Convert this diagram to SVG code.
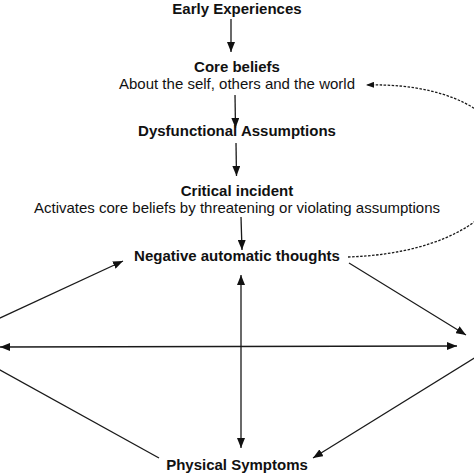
<svg xmlns="http://www.w3.org/2000/svg" width="474" height="474" viewBox="0 0 474 474">
<style>
text{font-family:"Liberation Sans",Arial,sans-serif;font-size:15px;fill:#111;text-anchor:middle}
.b{font-weight:bold}
.ln{stroke:#1a1a1a;stroke-width:1.3;fill:none}
.dash{stroke:#1a1a1a;stroke-width:1.3;fill:none;stroke-dasharray:2.5 1.5}
</style>
<defs>
<marker id="ah" viewBox="0 0 10 8" refX="10" refY="4" markerWidth="10" markerHeight="8" markerUnits="userSpaceOnUse" orient="auto-start-reverse">
<path d="M0,0 L10,4 L0,8 Z" fill="#111"/>
</marker>
<marker id="ahs" viewBox="0 0 8 6" refX="8" refY="3" markerWidth="8" markerHeight="6" markerUnits="userSpaceOnUse" orient="auto">
<path d="M0,0 L8,3 L0,6 Z" fill="#111"/>
</marker>
</defs>
<rect width="474" height="474" fill="#fff"/>
<g id="early"><text class="b" x="237" y="13.5">Early Experiences</text></g>
<g id="core"><text class="b" x="237" y="72">Core beliefs</text><text x="237" y="89">About the self, others and the world</text></g>
<g id="dysfunctional"><text class="b" x="237" y="136">Dysfunctional Assumptions</text></g>
<g id="critical"><text class="b" x="237" y="196">Critical incident</text><text x="237" y="213">Activates core beliefs by threatening or violating assumptions</text></g>
<g id="nat"><text class="b" x="237" y="261">Negative automatic thoughts</text></g>
<g id="physical"><text class="b" x="237" y="470">Physical Symptoms</text></g>
<g id="connectors">
<line class="ln" x1="231" y1="19" x2="231" y2="52" marker-end="url(#ah)"/>
<line class="ln" x1="235" y1="95" x2="235.5" y2="128" marker-end="url(#ah)"/>
<line class="ln" x1="236" y1="143" x2="236.5" y2="176" marker-end="url(#ah)"/>
<line class="ln" x1="241" y1="217" x2="242" y2="250" marker-end="url(#ah)"/>
<path class="dash" d="M348,257 C560,250 560,80 366,85" marker-end="url(#ahs)"/>
<line class="ln" x1="-2" y1="319" x2="123" y2="261" marker-end="url(#ah)"/>
<line class="ln" x1="349" y1="263" x2="466" y2="335" marker-end="url(#ah)"/>
<line class="ln" x1="0" y1="347" x2="457" y2="346" marker-start="url(#ah)" marker-end="url(#ah)"/>
<line class="ln" x1="241" y1="275" x2="241" y2="448" marker-start="url(#ah)" marker-end="url(#ah)"/>
<line class="ln" x1="-2" y1="369" x2="159" y2="458"/>
<line class="ln" x1="476" y1="357" x2="313" y2="458" marker-end="url(#ah)"/>
</g>
</svg>
